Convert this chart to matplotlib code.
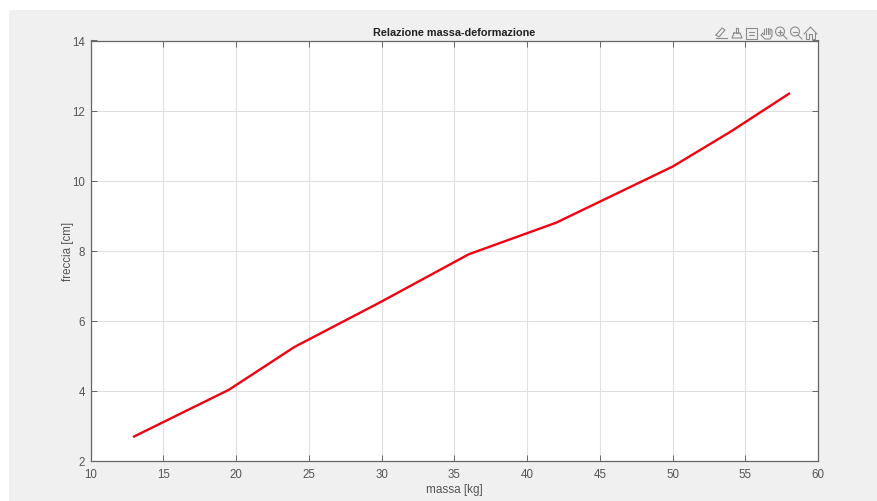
import matplotlib
matplotlib.use("Agg")
import matplotlib.pyplot as plt
from matplotlib.lines import Line2D
from matplotlib.patches import Rectangle, Circle

massa = [13, 19.5, 24, 30, 36, 42, 50, 54, 58]
freccia = [2.7, 4.03, 5.25, 6.55, 7.9, 8.8, 10.4, 11.4, 12.48]
xticks = [10, 15, 20, 25, 30, 35, 40, 45, 50, 55, 60]
yticks = [2, 4, 6, 8, 10, 12, 14]

plt.rcParams['font.family'] = ['Liberation Sans', 'DejaVu Sans']
W, H = 877, 502
BG = '#f0f0f0'
TXT = '#555555'
fig = plt.figure(figsize=(W/100, H/100), dpi=100, facecolor=BG)

# white screenshot margin at the top and left
fig.add_artist(Rectangle((0, 0), 9/W, 1, transform=fig.transFigure,
                         facecolor='white', edgecolor='none', zorder=-5))
fig.add_artist(Rectangle((0, 1-11/H), 1, 11/H, transform=fig.transFigure,
                         facecolor='white', edgecolor='none', zorder=-5))

ax = fig.add_axes([90.5/W, 1-462/H, (818-90.5)/W, (462-41.5)/H])
ax.plot(massa, freccia, color='#f00010', lw=1.7)
ax.set_xlim(10, 60)
ax.set_ylim(2, 14)
ax.set_xticks(xticks)
ax.set_yticks(yticks)
ax.grid(True, color='#e0e0e0', lw=0.8)
ax.set_axisbelow(True)
ax.tick_params(direction='in', length=4, width=0.7, labelsize=8.3, color='#666666',
               labelcolor=TXT, top=True, right=True)
ax.tick_params(axis='x', pad=5)
ax.tick_params(axis='y', pad=4)
for s in ax.spines.values():
    s.set_linewidth(0.9)
    s.set_color('#666666')
ax.set_title('Relazione massa-deformazione', fontsize=7.8, fontweight='bold',
             color='#222222', pad=4)
ax.set_xlabel('massa [kg]', fontsize=8.5, color=TXT, labelpad=2.5)
ax.set_ylabel('freccia [cm]', fontsize=8.3, color=TXT, labelpad=-1.5)

# axes toolbar, drawn in figure pixels
IC = '#8c8c8c'
def ln(xs, ys):
    fig.add_artist(Line2D([x/W for x in xs], [1-y/H for y in ys],
                          transform=fig.transFigure, color=IC, lw=0.8))
def circ(cx, cy, r):
    fig.add_artist(Circle((cx, H-cy), r, transform=None, fill=False, edgecolor=IC, lw=0.8))

# pencil
ln([716, 722, 725, 719, 716], [36, 29, 31, 38, 36])
ln([716, 727], [39, 39])
# brush
ln([736, 738, 738, 736, 736], [29, 29, 34, 34, 29])
ln([734, 740, 742, 732, 734], [34, 34, 39, 39, 34])
# data-tip box
ln([746, 757, 757, 746, 746], [29, 29, 40, 40, 29])
ln([749, 754], [33, 33])
ln([749, 754], [36, 36])
# hand
ln([763, 761, 765, 770, 772, 772, 770, 770], [34, 36, 40, 40, 37, 31, 30, 35])
ln([763, 764, 764], [35, 35, 30])
ln([766, 766], [35, 29])
ln([768, 768], [35, 29])
# zoom in
circ(780, 32.5, 4.5)
ln([783, 787], [36, 40])
ln([778, 782], [32.5, 32.5])
ln([780, 780], [30.5, 34.5])
# zoom out
circ(795, 32.5, 4.5)
ln([798, 802], [36, 40])
ln([793, 797], [32.5, 32.5])
# home
ln([804, 810.5, 817], [35, 28, 35])
ln([806, 806, 809, 809, 812, 812, 815, 815], [34, 40, 40, 35, 35, 40, 40, 34])

fig.savefig('out.png', dpi=100, facecolor=fig.get_facecolor())
